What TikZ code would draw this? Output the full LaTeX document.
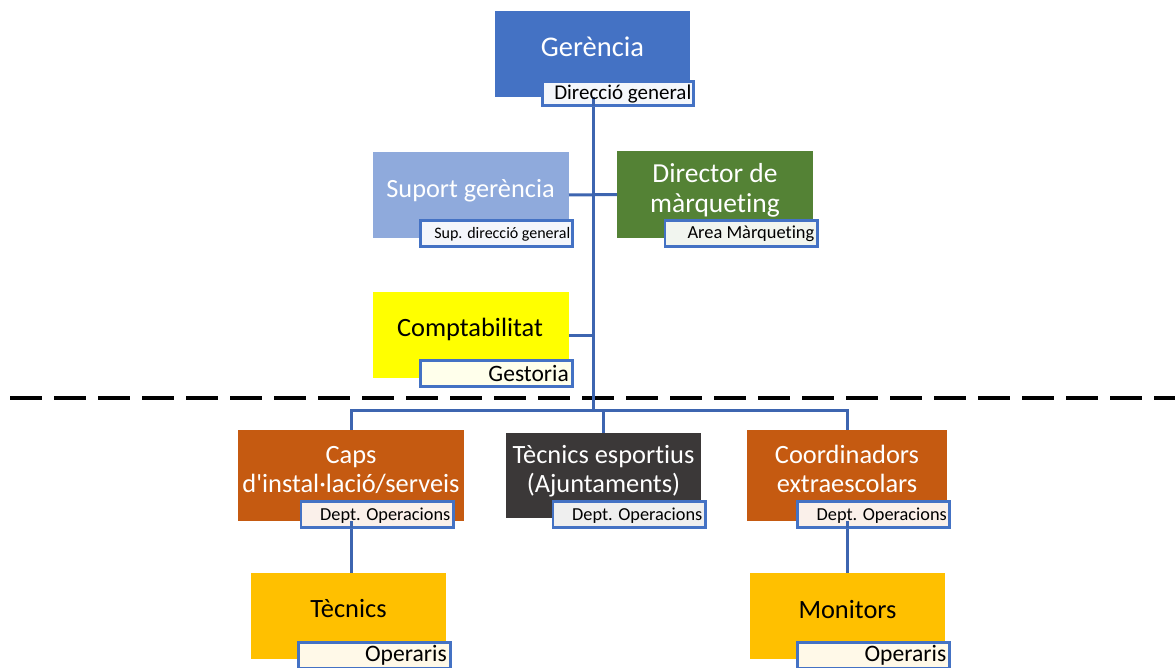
\documentclass[tikz,border=0pt]{standalone}
\usepackage{fontspec}
\setmainfont{Carlito}[Ligatures={NoCommon,TeXOff}]
\definecolor{cGer}{HTML}{4472C4}
\definecolor{cSup}{HTML}{8FAADC}
\definecolor{cDir}{HTML}{548235}
\definecolor{cComp}{HTML}{FFFF00}
\definecolor{cOrange}{HTML}{C55A11}
\definecolor{cDark}{HTML}{3B3838}
\definecolor{cGold}{HTML}{FFC000}
\definecolor{cBorder}{HTML}{4472C4}
\definecolor{cLine}{HTML}{3D65B0}
\begin{document}
\begin{tikzpicture}[x=1pt,y=-1pt,
  box/.style={draw=none, inner sep=0pt, outer sep=0pt},
  btext/.style={inner sep=0pt, align=center, font=\fontsize{26.4}{30}\selectfont},
  lbox/.style={draw=cBorder, line width=2.6pt, inner sep=0pt, outer sep=0pt,
     minimum width=152.4pt, minimum height=26.4pt},
  ltext/.style={inner sep=0pt, anchor=base east, text=black},
  conn/.style={draw=cLine, line width=3pt},
  dashline/.style={draw=black, line width=4pt, dash pattern=on 32pt off 12pt}]
\useasboundingbox (0,0) rectangle (1175,668);

% dashed separator
\coordinate (dl) at (10,397.5);
\coordinate (dr) at (1175,397.5);
\draw[dashline] (dl) -- (dr);

% junction on the bus
\coordinate (bus) at (593,410);

% boxes
\node[box, fill=cGer, minimum width=195pt, minimum height=86pt] (ger) at (592.5,54) {};
\node[box, fill=cSup, minimum width=196pt, minimum height=86pt] (sup) at (471,195) {};
\node[box, fill=cDir, minimum width=196pt, minimum height=87pt] (dir) at (715,194.5) {};
\node[box, fill=cComp, minimum width=196pt, minimum height=86pt] (comp) at (471,335) {};
\node[box, fill=cOrange, minimum width=226pt, minimum height=91pt] (caps) at (351,475.5) {};
\node[box, fill=cDark, minimum width=195pt, minimum height=85pt] (tec) at (603.5,475.5) {};
\node[box, fill=cOrange, minimum width=200pt, minimum height=91pt] (coord) at (847,475.5) {};
\node[box, fill=cGold, minimum width=195pt, minimum height=86pt] (tecn) at (348.5,616) {};
\node[box, fill=cGold, minimum width=195pt, minimum height=86pt] (mon) at (847.5,616) {};

% connectors
\draw[conn] (ger.south -| bus) -- (bus);
\draw[conn] (sup.east) -- (dir.west);
\draw[conn] (comp.east) -- (comp.east -| bus);
\draw[conn] (caps.north) |- (bus) -| (coord.north);
\draw[conn] (bus -| tec.north) -- (tec.north);
\draw[conn] (caps.south) -- (tecn.north -| caps.south);
\draw[conn] (coord.south) -- (mon.north -| coord.south);

% box texts
\node[btext, anchor=base, text=white, font=\fontsize{28.5}{30}\selectfont] (gert) at (592.5,56.7) {Gerència};
\node[btext, anchor=base, text=white, font=\fontsize{26.3}{30}\selectfont] (supt) at (470.5,197.3) {Suport gerència};
\node[btext, anchor=base, text=white, font=\fontsize{27.5}{30}\selectfont] (dirt1) at (715,182.7) {Director de};
\node[btext, anchor=base, text=white, font=\fontsize{27.5}{30}\selectfont] (dirt2) at (715,212.7) {màrqueting};
\node[btext, anchor=base, text=black] (compt) at (470,336.7) {Comptabilitat};
\node[btext, anchor=base, text=white] (capst1) at (351,463) {Caps};
\node[btext, anchor=base, text=white] (capst2) at (351,492.7) {d'instal·lació/serveis};
\node[btext, anchor=base, text=white] (tect1) at (603.5,463.3) {Tècnics esportius};
\node[btext, anchor=base, text=white] (tect2) at (603.5,492.7) {(Ajuntaments)};
\node[btext, anchor=base, text=white] (coordt1) at (847,463.3) {Coordinadors};
\node[btext, anchor=base, text=white] (coordt2) at (847,492.3) {extraescolars};
\node[btext, anchor=base, text=black] (tecnt) at (348.5,617.3) {Tècnics};
\node[btext, anchor=base, text=black] (mont) at (847.5,618) {Monitors};

% labels
\node[lbox, fill=cGer!6!white, minimum width=151.4pt, minimum height=24.4pt] (gerlab) at (618,93.5) {};
\node[lbox, fill=cSup!10!white] (suplab) at (496.5,233.5) {};
\node[lbox, fill=cDir!8!white] (dirlab) at (741,233.5) {};
\node[lbox, fill=cComp!8!white] (gestlab) at (496.5,373.5) {};
\node[lbox, fill=cOrange!9!white] (capslab) at (377,514.5) {};
\node[lbox, fill=cDark!8!white] (teclab) at (629,514.5) {};
\node[lbox, fill=cOrange!9!white] (coordlab) at (873.5,514.5) {};
\node[lbox, fill=cGold!9!white] (tecnlab) at (374.5,655.5) {};
\node[lbox, fill=cGold!9!white] (monlab) at (873.5,655.5) {};

% trunk from the label of Gerència
\draw[conn] (gerlab.south -| bus) -- (ger.south -| bus);
\draw[conn] (capslab.south -| caps.south) -- (caps.south);
\draw[conn] (coordlab.south -| coord.south) -- (coord.south);

% label texts
\node[ltext, font=\fontsize{21}{24}\selectfont] (gerlabt) at (691.5,100) {Direcció general};
\node[ltext, font=\fontsize{16}{19}\selectfont] (suplabt) at (570.5,239) {Sup. direcció general};
\node[ltext, font=\fontsize{18.4}{21}\selectfont] (dirlabt) at (814.5,239) {Area Màrqueting};
\node[ltext, font=\fontsize{23.5}{26}\selectfont] (gestlabt) at (569,381) {Gestoria};
\node[ltext, font=\fontsize{18.3}{21}\selectfont] (capslabt) at (450.5,520.7) {Dept. Operacions};
\node[ltext, font=\fontsize{18.3}{21}\selectfont] (teclabt) at (702.5,520.7) {Dept. Operacions};
\node[ltext, font=\fontsize{18.3}{21}\selectfont] (coordlabt) at (947,520.7) {Dept. Operacions};
\node[ltext, font=\fontsize{23.6}{26}\selectfont] (tecnlabt) at (447,661.7) {Operaris};
\node[ltext, font=\fontsize{23.6}{26}\selectfont] (monlabt) at (946.5,661.7) {Operaris};
\end{tikzpicture}
\end{document}
